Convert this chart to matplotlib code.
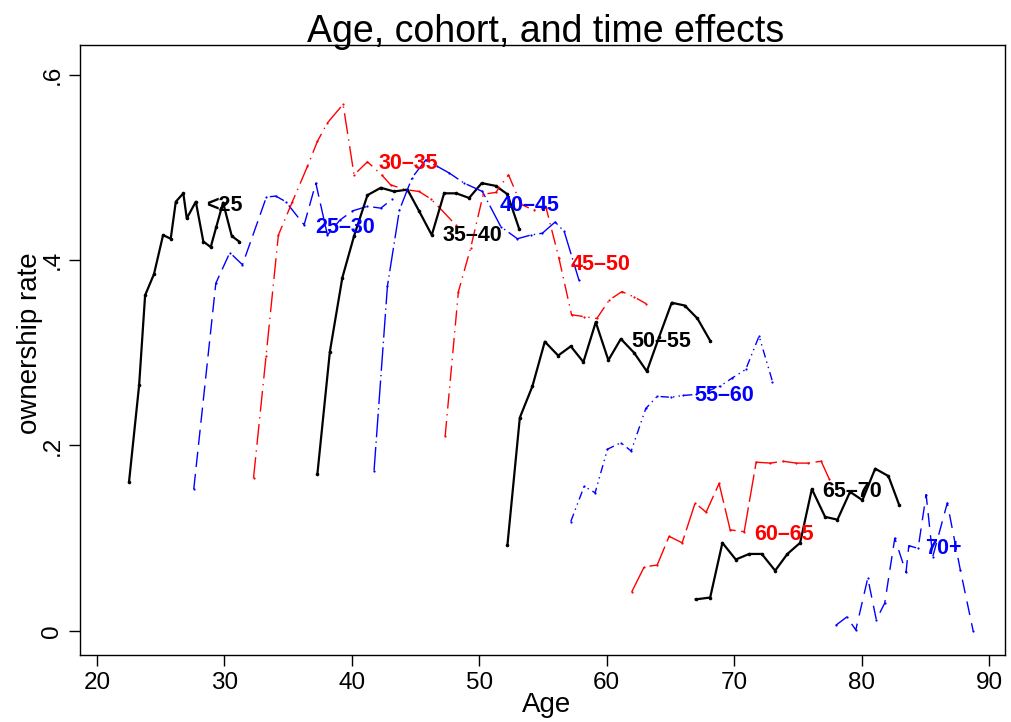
import matplotlib
matplotlib.use("Agg")
import matplotlib.pyplot as plt

plt.rcParams['font.family'] = ['Liberation Sans', 'DejaVu Sans']

# ---- data (age, ownership rate) per cohort ----
c_lt25_age = [22.51, 23.30, 23.77, 24.47, 25.18, 25.78, 26.18, 26.77, 27.04, 27.75, 28.34, 28.92, 29.36, 29.89, 30.57, 31.15]
c_lt25_rate = [.161, .265, .362, .385, .427, .423, .463, .472, .445, .463, .420, .414, .436, .462, .426, .420]

c_2530_age = [27.59, 29.32, 30.42, 31.41, 33.29, 34.03, 34.81, 36.25, 37.17, 38.08, 39.05, 40.04, 41.22, 42.27, 43.18]
c_2530_rate = [.153, .375, .408, .395, .468, .469, .463, .438, .483, .427, .443, .453, .458, .456, .466]

c_3035_age = [32.28, 33.26, 34.23, 35.33, 36.51, 37.29, 38.08, 39.31, 40.17, 41.22, 42.33, 43.05, 44.23, 45.27, 46.19, 46.84, 48.14]
c_3035_rate = [.165, .296, .427, .463, .501, .528, .548, .568, .492, .506, .492, .481, .476, .474, .466, .457, .438]

c_3540_age = [37.29, 38.27, 39.25, 40.17, 41.22, 42.27, 43.31, 44.36, 45.27, 46.27, 47.24, 48.20, 49.20, 50.19, 51.30, 52.21, 53.12]
c_3540_rate = [.169, .301, .381, .426, .470, .478, .474, .476, .453, .427, .472, .472, .467, .483, .480, .471, .434]

c_4045_age = [41.74, 42.79, 43.73, 44.73, 45.80, 46.71, 47.63, 48.81, 50.24, 51.69, 52.99, 54.04, 54.95, 55.95, 56.66, 57.83]
c_4045_rate = [.173, .372, .454, .489, .508, .501, .494, .483, .474, .436, .423, .427, .429, .441, .431, .378]

c_4550_age = [47.32, 48.36, 49.32, 50.31, 51.30, 52.29, 53.28, 54.27, 55.25, 56.25, 57.24, 58.23, 59.22, 60.21, 61.19, 62.18, 63.09]
c_4550_rate = [.210, .366, .413, .471, .473, .492, .460, .454, .456, .402, .341, .339, .337, .357, .366, .360, .353]

c_5055_age = [52.21, 53.18, 54.17, 55.14, 56.19, 57.18, 58.17, 59.14, 60.13, 61.11, 62.15, 63.15, 64.11, 65.10, 66.12, 67.12, 68.12]
c_5055_rate = [.093, .230, .264, .312, .297, .307, .290, .333, .292, .315, .300, .280, .317, .354, .351, .337, .313]

c_5560_age = [57.18, 58.23, 59.09, 60.06, 61.11, 61.92, 63.07, 63.96, 65.03, 66.00, 67.02, 67.96, 68.90, 69.87, 70.91, 71.96, 73.01]
c_5560_rate = [.118, .156, .149, .196, .203, .194, .240, .253, .252, .254, .255, .259, .264, .273, .282, .318, .269]

c_6065_age = [61.96, 62.94, 63.96, 64.90, 65.92, 66.94, 67.80, 68.82, 69.69, 70.79, 71.73, 72.83, 73.85, 74.87, 75.81, 76.83, 77.46]
c_6065_rate = [.042, .069, .071, .102, .095, .138, .128, .159, .109, .107, .182, .181, .183, .181, .181, .183, .164]

c_6570_age = [66.99, 68.12, 69.08, 70.13, 71.18, 72.17, 73.22, 74.18, 75.18, 76.10, 77.14, 78.11, 79.10, 80.07, 81.07, 82.11, 82.95]
c_6570_rate = [.034, .036, .095, .077, .083, .083, .065, .083, .095, .153, .123, .120, .150, .141, .175, .167, .136]

c_70p_age = [77.98, 78.84, 79.55, 80.49, 81.16, 81.82, 82.61, 83.49, 83.71, 84.44, 85.07, 85.59, 86.73, 87.75, 88.76]
c_70p_rate = [.006, .015, .001, .057, .012, .030, .100, .063, .092, .089, .147, .080, .138, .066, .000]

cohort_labels = ["<25", "25\u201330", "30\u201335", "35\u201340", "40\u201345", "45\u201350",
                 "50\u201355", "55\u201360", "60\u201365", "65\u201370", "70+"]
label_age = [28.56, 37.11, 42.13, 47.08, 51.63, 57.13, 61.92, 66.87, 71.58, 76.91, 84.99]
label_rate = [.459, .435, .504, .427, .459, .395, .312, .254, .104, .150, .089]

x_ticks = [20, 30, 40, 50, 60, 70, 80, 90]
y_ticks = [0, .2, .4, .6]
y_ticklabels = ["0", ".2", ".4", ".6"]

series = [
    (c_lt25_age, c_lt25_rate), (c_2530_age, c_2530_rate), (c_3035_age, c_3035_rate),
    (c_3540_age, c_3540_rate), (c_4045_age, c_4045_rate), (c_4550_age, c_4550_rate),
    (c_5055_age, c_5055_rate), (c_5560_age, c_5560_rate), (c_6065_age, c_6065_rate),
    (c_6570_age, c_6570_rate), (c_70p_age, c_70p_rate),
]

colors = ['black', 'blue', 'red'] * 4
styles = [
    '-', (0, (11, 5)), (0, (15, 4, 1, 4)),
    '-', (0, (17, 3, 1, 3)), (0, (11, 4, 1, 4)),
    '-', (0, (6, 3, 1, 3, 1, 3)), (0, (20, 4)),
    '-', (0, (10, 6)),
]

fig = plt.figure(figsize=(10.12, 7.22), dpi=100)
ax = fig.add_axes([80 / 1012, 1 - 655 / 722, 925 / 1012, 610 / 722])

for i, (xs, ys) in enumerate(series):
    c = colors[i]
    black = c == 'black'
    ax.plot(xs, ys, color=c, linestyle=styles[i], linewidth=1.6 if black else 1.0,
            marker='o', markersize=2.6 if black else 1.6, markeredgewidth=0)
    ax.text(label_age[i], label_rate[i], cohort_labels[i], color=c, fontsize=15.5,
            fontweight='bold', ha='left', va='center')

ax.set_xlim(18.66, 91.26)
ax.set_ylim(-0.026, 0.632)
ax.set_xticks(x_ticks)
ax.set_xticklabels([str(v) for v in x_ticks], fontsize=17.5)
ax.set_yticks(y_ticks)
ax.set_yticklabels(y_ticklabels, fontsize=17.5, rotation=90, va='center')
ax.tick_params(direction='out', length=8, width=1.0, pad=4)
for s in ax.spines.values():
    s.set_linewidth(1.0)

fig.text(546 / 1012, 1 - 32 / 722, "Age, cohort, and time effects", ha='center', va='center', fontsize=27)
fig.text(547 / 1012, 1 - 705 / 722, "Age", ha='center', va='center', fontsize=20)
fig.text(30 / 1012, 1 - 343 / 722, "ownership rate", ha='center', va='center', fontsize=20, rotation=90)

fig.savefig("out.png", dpi=100)
